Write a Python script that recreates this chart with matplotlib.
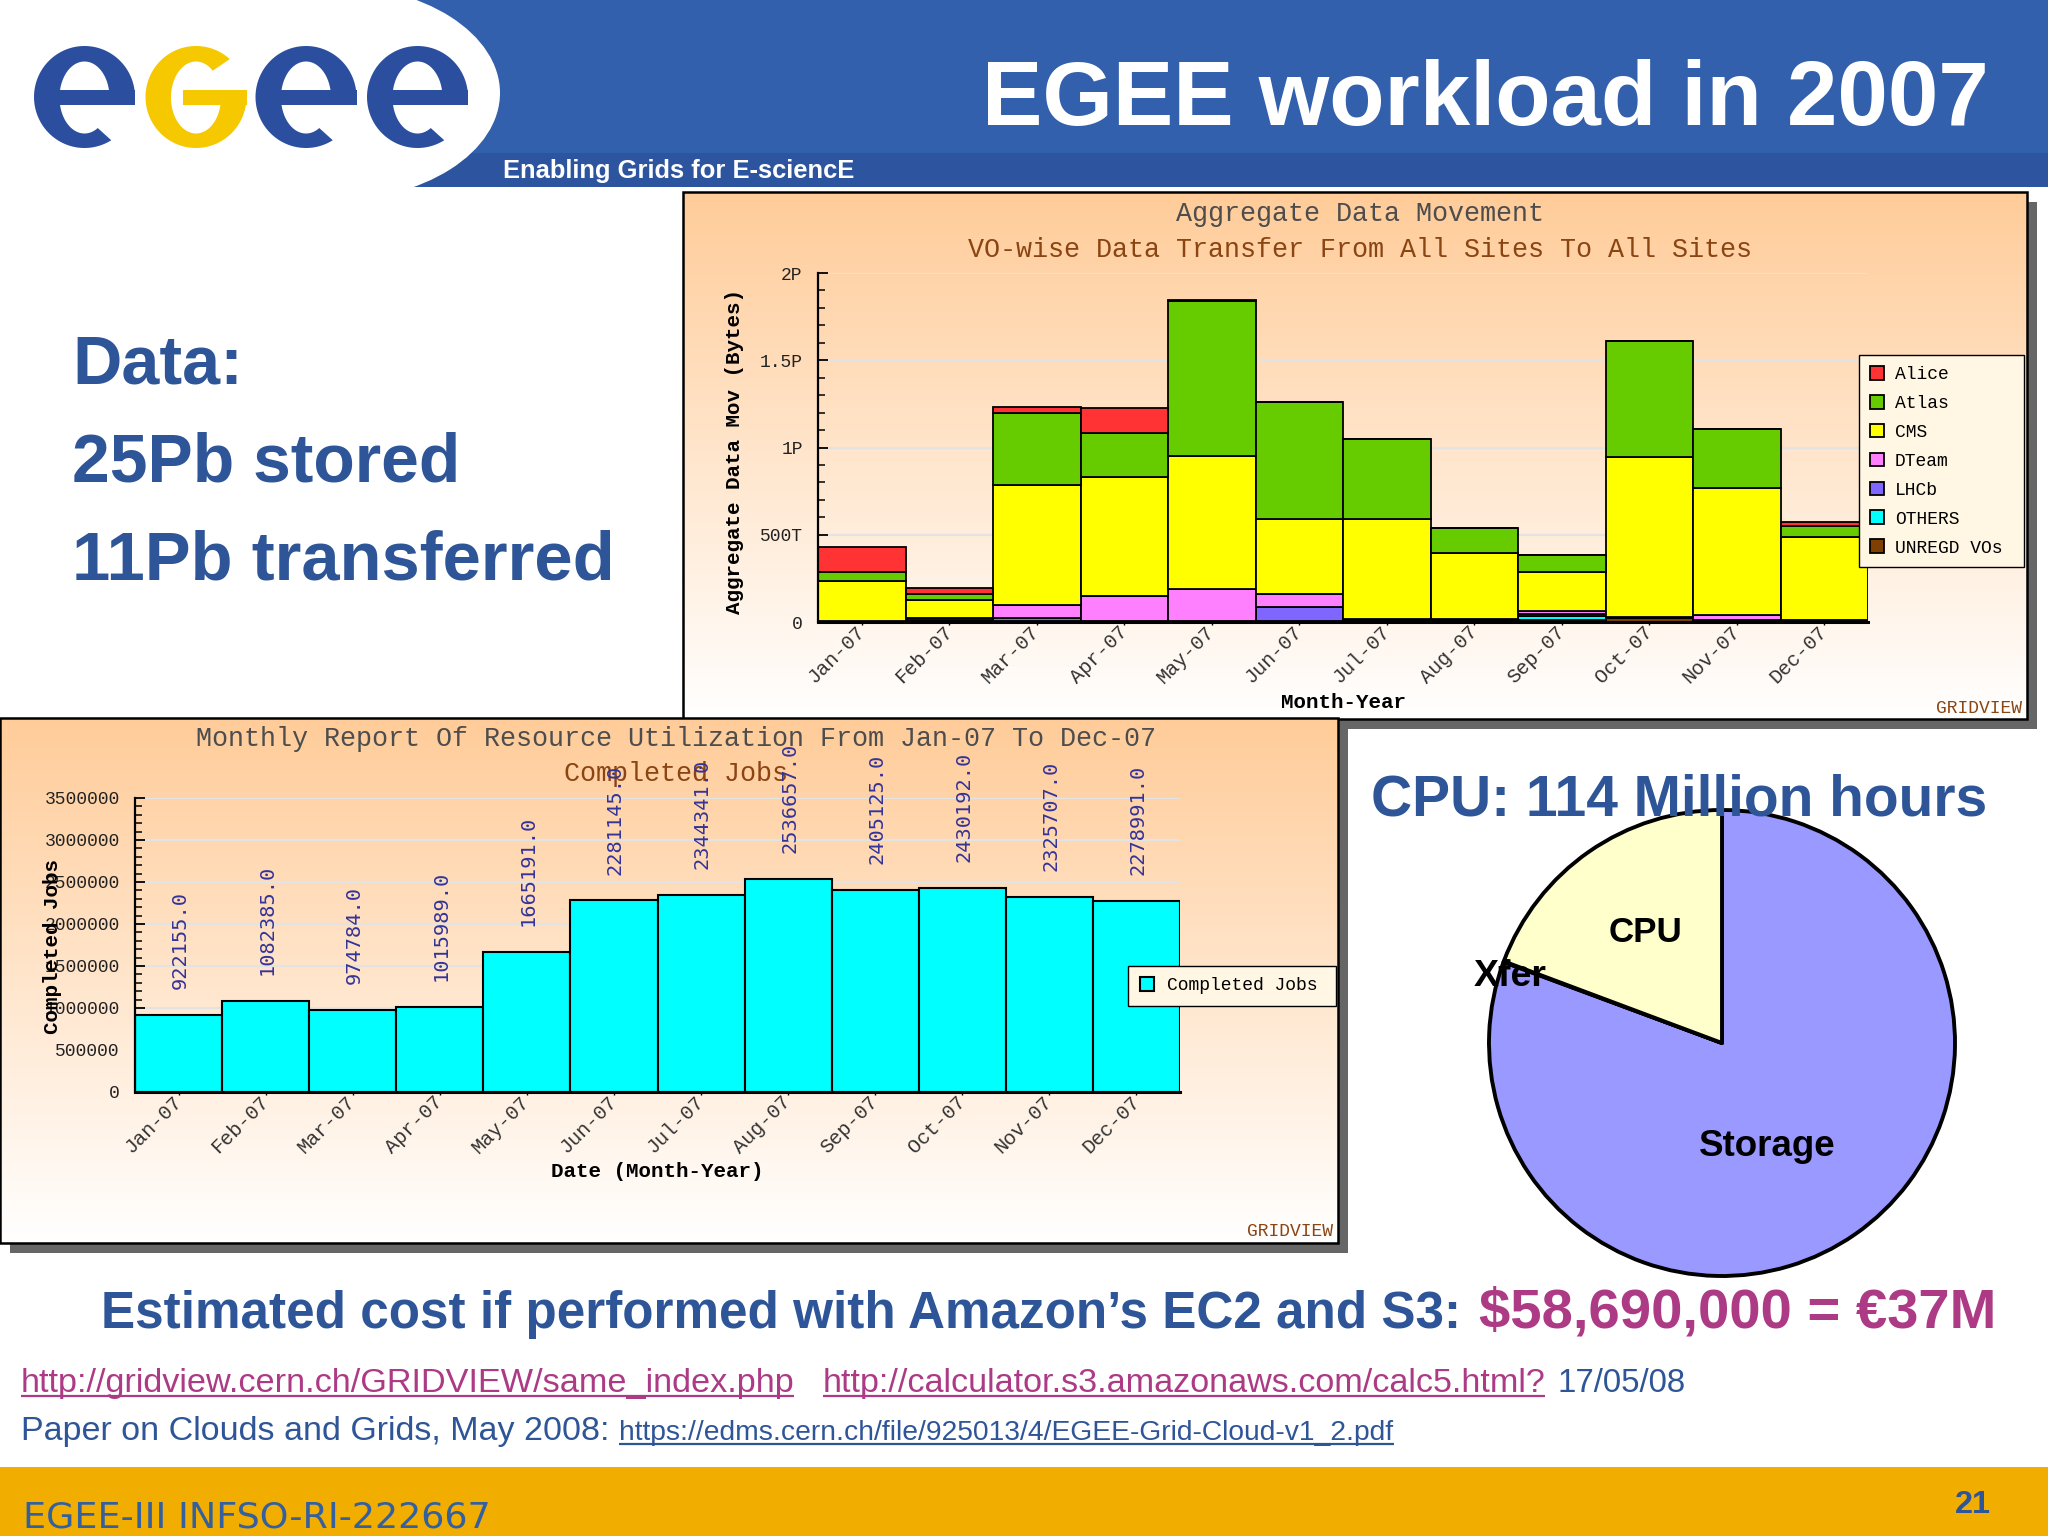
"""EGEE workload in 2007 - slide with two GridView charts and a cost pie."""
import numpy as np
import matplotlib
matplotlib.use("Agg")
import matplotlib.pyplot as plt
from matplotlib.patches import Rectangle, Ellipse
from matplotlib.ticker import MultipleLocator


MONTHS = ["Jan-07", "Feb-07", "Mar-07", "Apr-07", "May-07", "Jun-07",
          "Jul-07", "Aug-07", "Sep-07", "Oct-07", "Nov-07", "Dec-07"]

# data movement per VO, in TB
UNREGD = [3, 4, 4, 3, 3, 4, 9, 14, 10, 21, 5, 3]
OTHERS = [1, 3, 2, 1, 1, 2, 2, 2, 24, 3, 2, 2]
LHCB = [2, 5, 19, 2, 2, 81, 2, 1, 10, 3, 3, 2]
DTEAM = [2, 13, 74, 145, 184, 74, 2, 1, 17, 3, 29, 3]
CMS = [225, 103, 687, 678, 761, 429, 575, 380, 225, 915, 730, 479]
ATLAS = [52, 32, 410, 255, 888, 670, 461, 140, 99, 666, 339, 63]
ALICE = [147, 37, 35, 143, 8, 0, 0, 0, 0, 0, 0, 20]

VO_NAMES = ["UNREGD VOs", "OTHERS", "LHCb", "DTeam", "CMS", "Atlas", "Alice"]
VO_SERIES = [UNREGD, OTHERS, LHCB, DTEAM, CMS, ATLAS, ALICE]
VO_COLORS = ["#7F3F00", "#00FFFF", "#7F66FF", "#FF80FF", "#FFFF00", "#66CC00", "#FF3333"]
DATA_TICKS = [0, 500, 1000, 1500, 2000]
DATA_TICK_LABELS = ["0", "500T", "1P", "1.5P", "2P"]

COMPLETED_JOBS = [922155.0, 1082385.0, 974784.0, 1015989.0, 1665191.0, 2281145.0,
                  2344341.0, 2536657.0, 2405125.0, 2430192.0, 2325707.0, 2278991.0]
JOB_TICKS = [0, 500000, 1000000, 1500000, 2000000, 2500000, 3000000, 3500000]
JOB_TICK_LABELS = ["0", "500000", "1000000", "1500000", "2000000", "2500000", "3000000", "3500000"]

PIE_NAMES = ["Storage", "Xfer", "CPU"]
PIE_SHARE = [80.65, 0.05, 19.3]
PIE_COLORS = ["#9999FF", "#993366", "#FFFFCC"]

W, H = 2048, 1536
BLUE = "#2E5597"
MAGENTA = "#AC3A85"
LOGO_BLUE = "#2B4F9E"
LOGO_YELLOW = "#F5C800"
MONO = "Liberation Mono"
SANS = "Liberation Sans"
LEGEND_BG = "#FFF6E3"

plt.rcParams["font.family"] = [SANS, "DejaVu Sans"]
fig = plt.figure(figsize=(W / 100, H / 100), dpi=100, facecolor="white")
renderer = fig.canvas.get_renderer()


def axes_px(x0, y0, x1, y1, zorder=1):
    """Axes placed by slide pixels, y measured from the top."""
    ax = fig.add_axes([x0 / W, 1 - y1 / H, (x1 - x0) / W, (y1 - y0) / H], zorder=zorder)
    ax.patch.set_alpha(0)
    return ax


def fit(ax, x0, x1, base, s, **kw):
    """Text on a baseline, sized so that it spans x0..x1."""
    t = ax.text(x0, base, s, ha="left", va="baseline", fontsize=20, **kw)
    w = t.get_window_extent(renderer).width
    t.set_fontsize(20 * (x1 - x0) / w)
    return t


def underline(ax, x0, x1, y, color, lw=1.6):
    ax.plot([x0, x1], [y, y], color=color, lw=lw, solid_capstyle="butt")


def panel(ax, x0, y0, x1, y1, z):
    ax.add_patch(Rectangle((x0 + 10, y0 + 10), x1 - x0, y1 - y0, fc="#666666", ec="none", zorder=z))
    grad = np.linspace([1.0, 0.8, 0.6], [1.0, 1.0, 1.0], 256).reshape(256, 1, 3)
    ax.imshow(grad, extent=(x0, x1, y1, y0), aspect="auto", zorder=z + 0.1)
    ax.add_patch(Rectangle((x0, y0), x1 - x0, y1 - y0, fc="none", ec="black", lw=1.8, zorder=z + 0.2))


def logo_letter(ax, cx, color, start, stop, bar_from):
    """One logo letter: an open ring with a bar through its middle."""
    t = np.radians(np.linspace(start, stop, 120))
    outer_x, outer_y = cx + 50.5 * np.cos(t), 97 - 51 * np.sin(t)
    inner_x, inner_y = cx + 25 * np.cos(t), 97.5 - 36 * np.sin(t)
    ax.fill(np.r_[outer_x, inner_x[::-1]], np.r_[outer_y, inner_y[::-1]], color=color, lw=0, zorder=3)
    ax.add_patch(Rectangle((bar_from, 90), cx + 50.5 - bar_from, 15, fc=color, ec="none", zorder=3))


def style_chart(ax, minor):
    for side in ("top", "right"):
        ax.spines[side].set_visible(False)
    ax.spines["left"].set_linewidth(1.6)
    ax.spines["bottom"].set_linewidth(2.2)
    ax.yaxis.set_minor_locator(MultipleLocator(minor))
    ax.tick_params(axis="y", which="major", direction="in", length=7, width=1.3, pad=11, labelsize=13)
    ax.tick_params(axis="y", which="minor", direction="in", length=5, width=1.1)
    ax.tick_params(axis="x", which="major", direction="out", length=2, width=1.0, pad=3, labelsize=14.5)
    ax.set_xlim(0, 12)
    ax.set_xticks(np.arange(12) + 0.5)
    ax.set_xticklabels(MONTHS, rotation=45, ha="right", va="center",
                       rotation_mode="anchor", family=MONO, color="#333333")
    for lab in ax.get_yticklabels():
        lab.set_family(MONO)
        lab.set_color("#222222")
    ax.grid(axis="y", which="major", color="#E3E3E3", lw=1.6)
    ax.set_axisbelow(True)


# slide background, banner and logo
page = axes_px(0, 0, W, H, zorder=0)
page.add_patch(Rectangle((0, 0), W, 153, fc="#3360AC", ec="none"))
page.add_patch(Rectangle((0, 153), W, 34, fc="#2D549E", ec="none"))
page.add_patch(Rectangle((0, 0), 330, 187, fc="white", ec="none", zorder=2))
page.add_patch(Ellipse((330, 93), 340, 216, fc="white", ec="none", zorder=2))
for cx in (84.5, 306, 417.5):
    logo_letter(page, cx, LOGO_BLUE, 0, 302, cx - 26)
logo_letter(page, 196, LOGO_YELLOW, 48, 360, 183)

fit(page, 982, 1990, 125, "EGEE workload in 2007", color="white", weight="bold", zorder=5)
fit(page, 503, 854, 178, "Enabling Grids for E-sciencE", color="white", weight="bold", zorder=5)
fit(page, 72, 242, 383, "Data:", color=BLUE, weight="bold")
fit(page, 72, 461, 481, "25Pb stored", color=BLUE, weight="bold")
fit(page, 72, 614, 579, "11Pb transferred", color=BLUE, weight="bold")

panel(page, 683, 192, 2027, 719, 6)
panel(page, 0, 718, 1338, 1243, 7)
page.text(1360, 221, "Aggregate Data Movement", ha="center", va="baseline", family=MONO, fontsize=19.3, color="#4D4D4D", zorder=8)
page.text(1360, 257, "VO-wise Data Transfer From All Sites To All Sites", ha="center", va="baseline", family=MONO, fontsize=19.3, color="#8B4513", zorder=8)
page.text(2022, 713, "GRIDVIEW", ha="right", va="baseline", family=MONO, fontsize=13, color="#8B4513", zorder=8)
page.text(1343, 708, "Month-Year", ha="center", va="baseline", family=MONO, weight="bold", fontsize=15, color="black", zorder=8)
page.text(735, 451, "Aggregate Data Mov (Bytes)", rotation=90, ha="center", va="center", family=MONO, weight="bold", fontsize=15, color="black", zorder=8)
page.text(676, 746, "Monthly Report Of Resource Utilization From Jan-07 To Dec-07", ha="center", va="baseline", family=MONO, fontsize=19.3, color="#4D4D4D", zorder=8)
page.text(676, 781, "Completed Jobs", ha="center", va="baseline", family=MONO, fontsize=19.3, color="#8B4513", zorder=8)
page.text(1333, 1236, "GRIDVIEW", ha="right", va="baseline", family=MONO, fontsize=13, color="#8B4513", zorder=8)
page.text(657, 1177, "Date (Month-Year)", ha="center", va="baseline", family=MONO, weight="bold", fontsize=15, color="black", zorder=8)

# bottom text and footer
fit(page, 101, 1460, 1328, "Estimated cost if performed with Amazon\u2019s EC2 and S3:", color=BLUE, weight="bold")
fit(page, 1479, 1997, 1328, "$58,690,000 = \u20ac37M", color=MAGENTA, weight="bold")
fit(page, 21, 794, 1392, "http://gridview.cern.ch/GRIDVIEW/same_index.php", color=MAGENTA)
underline(page, 21, 794, 1396, MAGENTA)
fit(page, 823, 1545, 1392, "http://calculator.s3.amazonaws.com/calc5.html?", color=MAGENTA)
underline(page, 823, 1545, 1396, MAGENTA)
fit(page, 1558, 1687, 1392, "17/05/08", color=BLUE)
fit(page, 21, 607, 1440, "Paper on Clouds and Grids, May 2008:", color=BLUE)
fit(page, 619, 1394, 1440, "https://edms.cern.ch/file/925013/4/EGEE-Grid-Cloud-v1_2.pdf", color=BLUE)
underline(page, 619, 1394, 1444, BLUE)
page.add_patch(Rectangle((0, 1467), W, 69, fc="#F2AE00", ec="none"))
fit(page, 23, 490, 1528, "EGEE-III INFSO-RI-222667", color="#34609F", family="DejaVu Sans", zorder=5)
fit(page, 1955, 1991, 1513, "21", color=BLUE, weight="bold", zorder=5)
page.set_xlim(0, W)
page.set_ylim(H, 0)
page.axis("off")

# stacked data movement chart
ax1 = axes_px(818, 273, 1868, 622, zorder=2)
x = np.arange(12) + 0.5
bottom = np.zeros(12)
handles = {}
for name, values, color in zip(VO_NAMES, VO_SERIES, VO_COLORS):
    bars = ax1.bar(x, values, width=1.0, bottom=bottom, color=color, edgecolor="black", lw=1.3)
    handles[name] = bars
    bottom += np.array(values)
ax1.set_ylim(0, 2000)
ax1.set_yticks(DATA_TICKS)
ax1.set_yticklabels(DATA_TICK_LABELS)
style_chart(ax1, 100)
order = VO_NAMES[::-1]
ax1.legend([handles[n] for n in order], order, loc="upper left", mode="expand",
           bbox_to_anchor=(1859 / W, 1 - 355 / H, 165 / W, 0), bbox_transform=fig.transFigure,
           prop={"family": MONO, "size": 13}, fancybox=False, framealpha=1,
           facecolor=LEGEND_BG, edgecolor="black", borderaxespad=0, borderpad=0.6,
           handlelength=0.8, handleheight=0.8, handletextpad=0.6, labelspacing=0.65)

# completed jobs chart
ax2 = axes_px(135, 798, 1180, 1092, zorder=3)
bars2 = ax2.bar(x, COMPLETED_JOBS, width=1.0, color="#00FFFF", edgecolor="black", lw=1.5)
for xi, v in zip(x, COMPLETED_JOBS):
    ax2.annotate(f"{v:.1f}", (xi, v), xytext=(1, 18.5), textcoords="offset points", rotation=90,
                 ha="center", va="bottom", family="DejaVu Sans Mono", fontsize=14.6,
                 color="#333399", annotation_clip=False)
ax2.set_ylim(0, 3500000)
ax2.set_yticks(JOB_TICKS)
ax2.set_yticklabels(JOB_TICK_LABELS)
style_chart(ax2, 100000)
ax2.legend([bars2], ["Completed Jobs"], loc="upper left", mode="expand",
           bbox_to_anchor=(1128 / W, 1 - 965.5 / H, 208 / W, 0), bbox_transform=fig.transFigure,
           prop={"family": MONO, "size": 13}, fancybox=False, framealpha=1,
           facecolor=LEGEND_BG, edgecolor="black", borderaxespad=0, borderpad=0.65,
           handlelength=0.8, handleheight=0.8, handletextpad=0.7)

# pie
r = 233 * 1.03
ax3 = axes_px(1722 - r, 1043 - r, 1722 + r, 1043 + r, zorder=4)
ax3.pie(PIE_SHARE, colors=PIE_COLORS, startangle=90, counterclock=False,
        wedgeprops={"edgecolor": "black", "linewidth": 2.8, "joinstyle": "round"})
ax3.set_xlim(-1.03, 1.03)
ax3.set_ylim(-1.03, 1.03)

# texts that sit on top of the charts and the pie
top = axes_px(0, 0, W, H, zorder=10)
fit(top, 1371, 1986, 816, "CPU: 114 Million hours", color=BLUE, weight="bold")
fit(top, 1609, 1683, 942, PIE_NAMES[2], color="black", weight="bold")
fit(top, 1474, 1547, 986, PIE_NAMES[1], color="black", weight="bold")
fit(top, 1699, 1836, 1156, PIE_NAMES[0], color="black", weight="bold")
top.text(53, 947, "Completed Jobs", rotation=90, ha="center", va="center", family=MONO, weight="bold", fontsize=15, color="black")
top.set_xlim(0, W)
top.set_ylim(H, 0)
top.axis("off")

fig.savefig("out.png", dpi=100)
